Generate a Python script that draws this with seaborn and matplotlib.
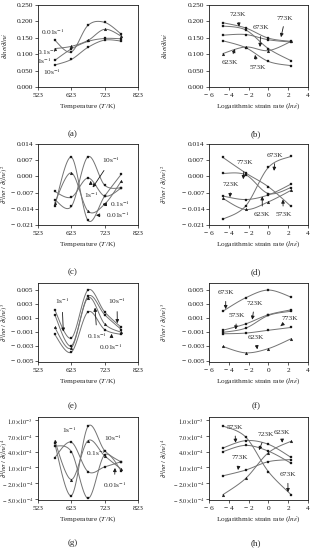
import numpy as np
import matplotlib
matplotlib.use("Agg")
import matplotlib.pyplot as plt
import seaborn as sns

# x values
temps = [573, 623, 673, 723, 773]
ln_rates = [-4.6, -2.3, 0.0, 2.3]
rate_labels = ["0.01", "0.1", "1", "10"]
temp_labels = ["573K", "623K", "673K", "723K", "773K"]

# (a) strain rate sensitivity vs temperature (one list per strain rate)
a_vals = {
    "0.01": [0.143, 0.107, 0.188, 0.197, 0.161],
    "0.1": [0.117, 0.124, 0.142, 0.176, 0.155],
    "1": [0.081, 0.116, 0.139, 0.148, 0.147],
    "10": [0.067, 0.084, 0.121, 0.143, 0.140],
}
# (b) vs ln strain rate (one list per temperature)
b_vals = {
    "573K": [0.141, 0.120, 0.078, 0.065],
    "623K": [0.102, 0.122, 0.111, 0.139],
    "673K": [0.186, 0.174, 0.117, 0.080],
    "723K": [0.196, 0.180, 0.149, 0.139],
    "773K": [0.158, 0.160, 0.144, 0.137],
}
c_vals = {
    "0.01": [-0.0130, 0.0083, -0.0190, -0.0085, 0.0010],
    "0.1": [-0.0115, 0.0015, -0.0150, -0.0120, -0.0020],
    "1": [-0.0065, -0.0090, -0.0007, -0.0085, -0.0050],
    "10": [-0.0100, -0.0130, 0.0085, -0.0038, -0.0050],
}
d_vals = {
    "573K": [0.0082, 0.0015, -0.0045, -0.0130],
    "623K": [-0.0095, -0.0143, -0.0110, -0.0060],
    "673K": [-0.0185, -0.0128, 0.0039, 0.0087],
    "723K": [-0.0085, -0.0100, -0.0080, -0.0033],
    "773K": [0.0013, 0.0007, -0.0074, -0.0048],
}
e_vals = {
    "0.01": [-0.0013, -0.0038, 0.0019, -0.0006, -0.0013],
    "0.1": [-0.0003, -0.0032, 0.0039, 0.0002, -0.0010],
    "1": [0.0015, -0.0029, 0.0041, 0.0015, -0.0006],
    "10": [0.0022, -0.0018, 0.0050, 0.0019, -0.0003],
}
f_vals = {
    "573K": [-0.0010, -0.0004, 0.0014, 0.0020],
    "623K": [-0.0030, -0.0039, -0.0033, -0.0019],
    "673K": [0.0020, 0.0039, 0.0050, 0.0040],
    "723K": [-0.0007, 0.0002, 0.0015, 0.0022],
    "773K": [-0.0012, -0.0011, -0.0007, -0.0003],
}
g_vals = {
    "0.01": [5.1e-4, 4.0e-4, -4.87e-4, 3.4e-4, 0.34e-4],
    "0.1": [6.07e-4, -1.3e-4, 6.1e-4, 3.2e-4, 0.67e-4],
    "1": [2.85e-4, 5.8e-4, 0.2e-4, 1.1e-4, 2.1e-4],
    "10": [5.56e-4, -4.36e-4, 8.8e-4, 4.2e-4, 2.0e-4],
}
h_vals = {
    "573K": [4.7e-4, 6.1e-4, 5.4e-4, 2.9e-4],
    "623K": [-4.2e-4, -1.1e-4, 3.8e-4, 6.0e-4],
    "673K": [8.9e-4, 6.8e-4, 0.2e-4, -4.2e-4],
    "723K": [4.0e-4, 5.2e-4, 4.1e-4, 1.8e-4],
    "773K": [-0.6e-4, 0.5e-4, 2.1e-4, 2.5e-4],
}

rate_markers = {"0.01": "s", "0.1": "^", "1": "s", "10": "s"}
temp_markers = {"573K": "s", "623K": "^", "673K": "s", "723K": "s", "773K": "s"}

sns.set_theme(style="white")
plt.rcParams["font.family"] = ["Liberation Serif", "DejaVu Serif"]
plt.rcParams["mathtext.fontset"] = "stix"
plt.rcParams["axes.unicode_minus"] = True

FS = 5.3


def smooth(x, y, n=30):
    # excel-like smoothed line (bezier through the points)
    x = np.asarray(x, float)
    y = np.asarray(y, float)
    px = np.r_[x[0], x, x[-1]]
    py = np.r_[y[0], y, y[-1]]
    t = np.linspace(0, 1, n)[:, None]
    out = []
    for i in range(1, len(px) - 2):
        p0 = np.array([px[i - 1], py[i - 1]])
        p1 = np.array([px[i], py[i]])
        p2 = np.array([px[i + 1], py[i + 1]])
        p3 = np.array([px[i + 2], py[i + 2]])
        c1 = p1 + (p2 - p0) / 6
        c2 = p2 - (p3 - p1) / 6
        seg = ((1 - t) ** 3) * p1 + 3 * ((1 - t) ** 2) * t * c1 + 3 * (1 - t) * t ** 2 * c2 + t ** 3 * p2
        out.append(seg)
    out = np.vstack(out)
    return out[:, 0], out[:, 1]


def draw_series(ax, xvals, data, markers):
    for key, yv in data.items():
        xs, ys = smooth(xvals, yv)
        sns.lineplot(x=xs, y=ys, sort=False, estimator=None, color="0.45", lw=0.7, ax=ax)
        sns.scatterplot(x=xvals, y=yv, marker=markers[key], s=4, color="k",
                        edgecolor="k", linewidth=0.2, ax=ax, zorder=3)


def style_axes(ax, kind, yticks, ylabels, ylim, ylab, col, tfs=FS):
    for sp in ax.spines.values():
        sp.set_color("k")
        sp.set_linewidth(0.6)
    if kind == "T":
        ax.set_xlim(523, 823)
        ax.set_xticks([523, 623, 723, 823])
        ax.set_xlabel("Temperature ($T$/K)", fontsize=FS, labelpad=3)
    else:
        ax.set_xlim(-6, 4)
        ax.set_xticks([-6, -4, -2, 0, 2, 4])
        ax.set_xticklabels(["\u2212 6", "\u2212 4", "\u2212 2", "0", "2", "4"])
        ax.set_xlabel(r"Logarithmic strain rate ($ln\dot{\varepsilon}$)", fontsize=FS, labelpad=3)
    ax.set_ylim(*ylim)
    ax.set_yticks(yticks)
    ax.set_yticklabels(ylabels)
    ax.set_ylabel(ylab, fontsize=4.8)
    ax.yaxis.set_label_coords([-0.29, -0.40][col], 0.5)
    ax.tick_params(axis="x", labelsize=FS, length=2, width=0.5, pad=2,
                   direction="out", color="k", labelcolor="k", bottom=True)
    ax.tick_params(axis="y", labelsize=tfs, length=2, width=0.5, pad=1.5,
                   direction="out", color="k", labelcolor="k", left=True)


def note(ax, text, xy, xytext=None):
    if xytext is None:
        ax.text(xy[0], xy[1], text, fontsize=FS, ha="center", va="center")
    else:
        ax.annotate(text, xy=xy, xytext=xytext, fontsize=FS, ha="center", va="center",
                    arrowprops=dict(arrowstyle="-|>", color="k", lw=0.6,
                                    mutation_scale=5, shrinkA=2, shrinkB=0))


def sfmt(v):
    s = f"{abs(v):.3f}"
    return ("\u2212 " + s) if v < 0 else s


def sci(v):
    e = int(np.floor(np.log10(abs(v)) + 1e-9))
    m = abs(v) / 10 ** e
    s = rf"${m:.1f}\!\times\!10^{{{e}}}$"
    return ("\u2212 " + s) if v < 0 else s


fig = plt.figure(figsize=(3.14, 5.5), dpi=100)
W, H = 314, 550
cols = [(38, 100), (209, 99)]
rows = [(5, 87), (144, 225), (283, 362), (417, 500)]
axes = {}
names = "abcdefgh"
for r, (top, bot) in enumerate(rows):
    for c, (left, wid) in enumerate(cols):
        ax = fig.add_axes([left / W, 1 - bot / H, wid / W, (bot - top) / H])
        axes[names[2 * r + c]] = ax

lab1 = r"$\partial ln\sigma/\partial ln\dot{\varepsilon}$"
lab2 = r"$\partial^2 ln\sigma\ /\ \partial(ln\dot{\varepsilon})^2$"
lab3 = r"$\partial^3 ln\sigma\ /\ \partial(ln\dot{\varepsilon})^3$"
lab4 = r"$\partial^4 ln\sigma\ /\ \partial(ln\dot{\varepsilon})^4$"

ya = [0, 0.05, 0.1, 0.15, 0.2, 0.25]
yc = [-0.021, -0.014, -0.007, 0.0, 0.007, 0.014]
ye = [-0.005, -0.003, -0.001, 0.001, 0.003, 0.005]
yg = [-5e-4, -2e-4, 1e-4, 4e-4, 7e-4, 1e-3]

# (a)
ax = axes["a"]
draw_series(ax, temps, a_vals, rate_markers)
style_axes(ax, "T", ya, [sfmt(v) for v in ya], (0, 0.25), lab1, 0)
note(ax, "0.01s$^{-1}$", (566, 0.167))
note(ax, "0.1s$^{-1}$", (550, 0.107))
note(ax, "1s$^{-1}$", (541, 0.079))
note(ax, "10s$^{-1}$", (566, 0.047))

# (b)
ax = axes["b"]
draw_series(ax, ln_rates, b_vals, temp_markers)
style_axes(ax, "R", ya, [sfmt(v) for v in ya], (0, 0.25), lab1, 1)
note(ax, "723K", (-2.96, 0.184), (-3.1, 0.222))
note(ax, "673K", (-0.85, 0.122), (-0.75, 0.180))
note(ax, "773K", (1.27, 0.152), (1.7, 0.210))
note(ax, "623K", (-3.37, 0.116), (-3.9, 0.076))
note(ax, "573K", (-1.35, 0.098), (-1.1, 0.058))

# (c)
ax = axes["c"]
draw_series(ax, temps, c_vals, rate_markers)
style_axes(ax, "T", yc, [sfmt(v) for v in yc], (-0.021, 0.014), lab2, 0)
note(ax, "10s$^{-1}$", (687, -0.0048), (742, 0.0071))
note(ax, "1s$^{-1}$", (681, -0.0019), (682, -0.0081))
note(ax, "0.1s$^{-1}$", (717, -0.012), (770, -0.012))
note(ax, "0.01s$^{-1}$", (697, -0.0168), (762, -0.0168))

# (d)
ax = axes["d"]
draw_series(ax, ln_rates, d_vals, temp_markers)
style_axes(ax, "R", yc, [sfmt(v) for v in yc], (-0.021, 0.014), lab2, 1)
note(ax, "673K", (0.57, 0.0024), (0.7, 0.0092))
note(ax, "773K", (-2.54, -0.0012), (-2.43, 0.0058))
note(ax, "723K", (-3.88, -0.0090), (-3.8, -0.0034))
note(ax, "623K", (-0.62, -0.0086), (-0.62, -0.0165))
note(ax, "573K", (1.47, -0.0100), (1.5, -0.0165))

# (e)
ax = axes["e"]
draw_series(ax, temps, e_vals, rate_markers)
style_axes(ax, "T", ye, [sfmt(v) for v in ye], (-0.0052, 0.006), lab3, 0)
note(ax, "1s$^{-1}$", (599, -0.0009), (595, 0.0034))
note(ax, "10s$^{-1}$", (761, 0.0003), (760, 0.0035))
note(ax, "0.1s$^{-1}$", (694, 0.0025), (700, -0.0015))
note(ax, "0.01s$^{-1}$", (744, -0.0012), (742, -0.0031))

# (f)
ax = axes["f"]
draw_series(ax, ln_rates, f_vals, temp_markers)
style_axes(ax, "R", ye, [sfmt(v) for v in ye], (-0.0052, 0.006), lab3, 1)
note(ax, "673K", (-4.32, 0.0023), (-4.3, 0.0046))
note(ax, "723K", (-1.63, 0.0008), (-1.4, 0.0031))
note(ax, "573K", (-3.3, -0.0006), (-3.2, 0.0014))
note(ax, "773K", (1.23, -0.0001), (2.2, 0.0010))
note(ax, "623K", (-1.12, -0.0034), (-1.3, -0.0017))

# (g)
ax = axes["g"]
draw_series(ax, temps, g_vals, rate_markers)
style_axes(ax, "T", yg, [sci(v) for v in yg], (-5.2e-4, 1.06e-3), lab4, 0, tfs=4.6)
note(ax, "1s$^{-1}$", (616, 8.2e-4))
note(ax, "10s$^{-1}$", (748, 6.6e-4))
note(ax, "0.1s$^{-1}$", (697, 3.8e-4))
note(ax, "0.01s$^{-1}$", (754, 0.9e-4), (752, -2.4e-4))

# (h)
ax = axes["h"]
draw_series(ax, ln_rates, h_vals, temp_markers)
style_axes(ax, "R", yg, [sci(v) for v in yg], (-5.2e-4, 1.06e-3), lab4, 1, tfs=4.6)
note(ax, "573K", (-3.31, 5.7e-4), (-3.4, 8.6e-4))
note(ax, "723K", (-0.95, 4.3e-4), (-0.3, 7.3e-4))
note(ax, "623K", (1.4, 5.7e-4), (1.35, 7.7e-4))
note(ax, "773K", (-3.07, 0.5e-4), (-2.9, 2.85e-4))
note(ax, "673K", (1.98, -3.7e-4), (1.96, -0.4e-4))

# panel letters
for i, n in enumerate(names):
    r, c = divmod(i, 2)
    x = [73, 256][c] / W
    y = 1 - [134, 272, 406, 543][r] / H
    fig.text(x, y, f"({n})", fontsize=6.5, ha="center", va="center")

fig.savefig("out.png", dpi=100)
